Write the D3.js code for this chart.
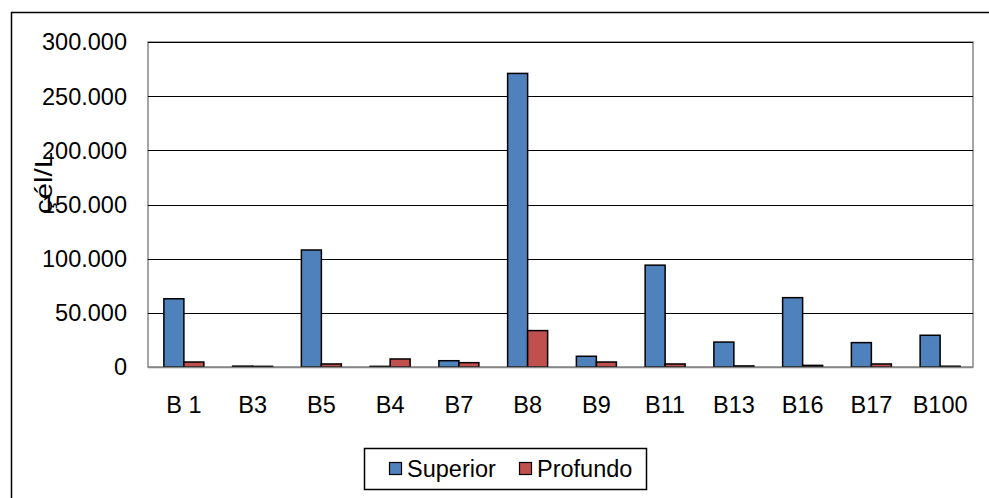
<!DOCTYPE html>
<html><head><meta charset="utf-8">
<script src="https://cdn.jsdelivr.net/npm/d3@7"></script>
<style>body{margin:0;background:#fff;}svg{display:block;font-family:"Liberation Sans",Arial,sans-serif;}</style>
</head><body>
<svg id="chart" width="989" height="498"></svg>
<script>
const categories = ["B 1","B3","B5","B4","B7","B8","B9","B11","B13","B16","B17","B100"];
const superior = [63000, 800, 108000, 600, 5800, 271000, 9900, 94000, 23000, 64000, 22500, 29300];
const profundo = [4600, 600, 2800, 7400, 4000, 33600, 4600, 2800, 1000, 1500, 2800, 700];
const seriesNames = ["Superior","Profundo"];
const colors = ["#4F81BD","#C0504D"];
const yTicks = [0,50000,100000,150000,200000,250000,300000];
const yLabel = "çél/L";

(function(){
const svg = d3.select("#chart");
const pL = 148, pR = 973, pT = 42, pB = 367;
const fs = 23.5;

// outer frame
svg.append("rect").attr("x",11.5).attr("y",12.5).attr("width",1100).attr("height",600)
  .attr("fill","#fff").attr("stroke","#000").attr("stroke-width",1.5);

const x = d3.scaleBand().domain(categories).range([pL,pR]).paddingInner(0).paddingOuter(0);
const xs = d3.scaleBand().domain(seriesNames).range([0,40]);
const y = d3.scaleLinear().domain([0,300000]).range([pB,pT]);

// plot area border
svg.append("rect").attr("x",pL).attr("y",pT).attr("width",pR-pL).attr("height",pB-pT)
  .attr("fill","none").attr("stroke","#868686").attr("stroke-width",1.5);

// gridlines
svg.append("g").selectAll("line").data(yTicks.filter(d=>d>0)).join("line")
  .attr("x1",pL).attr("x2",pR).attr("y1",d=>Math.round(y(d))+0.5).attr("y2",d=>Math.round(y(d))+0.5)
  .attr("stroke","#000").attr("stroke-width",1.2);

// y axis labels
svg.append("g").selectAll("text").data(yTicks).join("text")
  .attr("x",127).attr("y",d=>y(d)).attr("dy","0.36em").attr("text-anchor","end")
  .attr("font-size",fs).attr("fill","#000")
  .text(d => d===0 ? "0" : d3.format(",")(d).replace(/,/g,"."));

// bars
const data = categories.map((c,i)=>({cat:c, vals:[superior[i], profundo[i]]}));
const g = svg.append("g");
data.forEach(d=>{
  const cx = x(d.cat) + x.bandwidth()/2 + 1.5;
  seriesNames.forEach((s,j)=>{
    const v = d.vals[j];
    g.append("rect")
      .attr("x", cx - 20 + xs(s))
      .attr("y", y(v))
      .attr("width", xs.bandwidth())
      .attr("height", Math.max(0, y(0)-y(v)))
      .attr("fill", colors[j]).attr("stroke","#000").attr("stroke-width",1.5);
  });
});

// bottom axis line redraw
svg.append("line").attr("x1",pL).attr("x2",pR).attr("y1",pB+0.5).attr("y2",pB+0.5)
  .attr("stroke","#868686").attr("stroke-width",1.5);

// x labels
svg.append("g").selectAll("text").data(categories).join("text")
  .attr("x",d=>x(d)+x.bandwidth()/2+1.5).attr("y",413).attr("text-anchor","middle")
  .attr("font-size",fs).attr("fill","#000").text(d=>d);

// y label
svg.append("text").attr("transform","translate(52,183) rotate(-90)").attr("text-anchor","middle")
  .attr("font-size",fs).attr("fill","#000")
  .attr("textLength",62).attr("lengthAdjust","spacingAndGlyphs").text(yLabel);

// legend
const lg = svg.append("g");
lg.append("rect").attr("x",364.5).attr("y",448.5).attr("width",282).attr("height",41)
  .attr("fill","#fff").attr("stroke","#000").attr("stroke-width",1.5);
const lx = [389, 519];
seriesNames.forEach((s,j)=>{
  lg.append("rect").attr("x",lx[j]+0.5).attr("y",462.5).attr("width",12).attr("height",12)
    .attr("fill",colors[j]).attr("stroke","#000").attr("stroke-width",1.2);
  lg.append("text").attr("x",lx[j]+18).attr("y",477).attr("font-size",fs).attr("fill","#000").text(s);
});
})();
</script>
</body></html>
